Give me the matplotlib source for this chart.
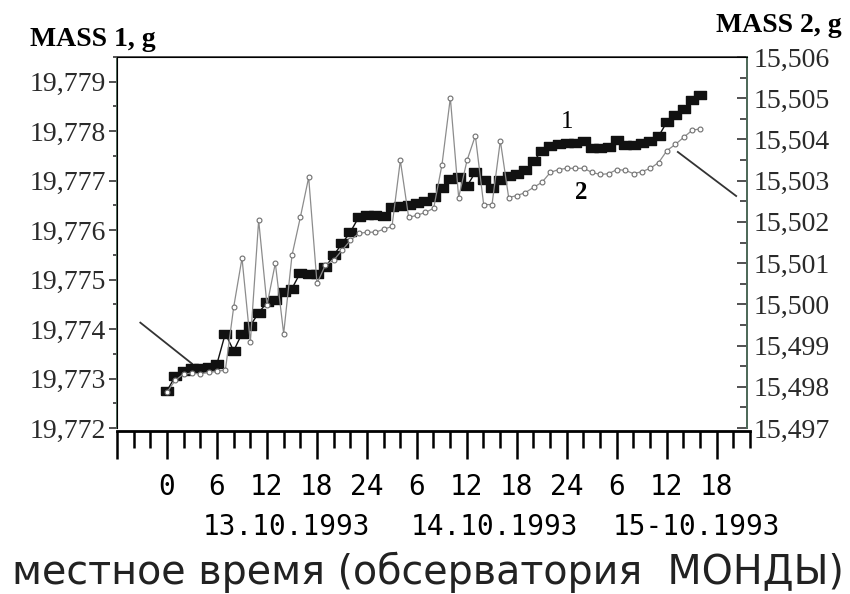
import numpy as np
import matplotlib
matplotlib.use("Agg")
import matplotlib.pyplot as plt
from matplotlib.ticker import MultipleLocator, FuncFormatter

# hours from 0:00 13.10.1993 (local time, Mondy observatory)
hours = list(range(65))

mass1 = [19.77275, 19.77305, 19.77316, 19.77322, 19.77322, 19.77324, 19.77330,
         19.77391, 19.77356, 19.77391, 19.77407, 19.77433, 19.77454, 19.77458,
         19.77474, 19.77482, 19.77514, 19.77512, 19.77512, 19.77525, 19.77549,
         19.77573, 19.77596, 19.77626, 19.77630, 19.77630, 19.77628, 19.77646,
         19.77648, 19.77650, 19.77654, 19.77658, 19.77667, 19.77685, 19.77703,
         19.77707, 19.77689, 19.77717, 19.77701, 19.77685, 19.77701, 19.77709,
         19.77713, 19.77721, 19.77740, 19.77760, 19.77770, 19.77774, 19.77776,
         19.77776, 19.77780, 19.77766, 19.77766, 19.77768, 19.77782, 19.77772,
         19.77772, 19.77776, 19.77780, 19.77790, 19.77819, 19.77833, 19.77845,
         19.77863, 19.77873]

mass2 = [15.49787, 15.49816, 15.49831, 15.49833, 15.49831, 15.49836, 15.49838,
         15.49840, 15.49993, 15.50112, 15.49908, 15.50204, 15.49998, 15.50100,
         15.49929, 15.50119, 15.50211, 15.50308, 15.50051, 15.50095, 15.50107,
         15.50131, 15.50155, 15.50172, 15.50175, 15.50175, 15.50182, 15.50189,
         15.50349, 15.50211, 15.50216, 15.50223, 15.50233, 15.50339, 15.50501,
         15.50259, 15.50349, 15.50409, 15.50242, 15.50242, 15.50397, 15.50259,
         15.50264, 15.50271, 15.50284, 15.50296, 15.50320, 15.50327, 15.50330,
         15.50330, 15.50330, 15.50320, 15.50315, 15.50317, 15.50327, 15.50325,
         15.50317, 15.50322, 15.50330, 15.50344, 15.50373, 15.50388, 15.50405,
         15.50422, 15.50426]

ruler_ticks = [0, 6, 12, 18, 24, 30, 36, 42, 48, 54, 60, 66]
ruler_labels = ["0", "6", "12", "18", "24", "6", "12", "18", "24", "6", "12", "18"]
day_labels = ["13.10.1993", "14.10.1993", "15-10.1993"]

W, H = 850, 594
SERIF = "Liberation Serif"
MONO = "DejaVu Sans Mono"
SPINE = "#4f6b5a"

comma_fmt = FuncFormatter(lambda v, _: f"{v:.3f}".replace(".", ","))

fig = plt.figure(figsize=(W / 100, H / 100), dpi=100)

# main plot box
ax1 = fig.add_axes([117 / W, 1 - 428 / H, 630 / W, 371 / H])
ax1.set_xlim(-6, 69.6)
ax1.set_ylim(19.772, 19.7795)
ax1.plot(hours, mass1, color="#111111", lw=1.0,
         marker=[(-1, -0.75), (1, -0.75), (1, 0.75), (-1, 0.75), (-1, -0.75)],
         markersize=8, zorder=3)
ax1.yaxis.set_major_locator(MultipleLocator(0.001))
ax1.yaxis.set_minor_locator(MultipleLocator(0.0005))
ax1.yaxis.set_major_formatter(comma_fmt)
ax1.tick_params(axis="y", which="major", direction="out", length=6, width=1.2, pad=2,
                labelsize=20, labelcolor="#2a2a2a", color="#333333")
ax1.tick_params(axis="y", which="minor", direction="out", length=3, width=1.2, color="#333333")
ax1.tick_params(axis="x", bottom=False, labelbottom=False)
for lab in ax1.get_yticklabels():
    lab.set_family(SERIF)
ax1.spines["bottom"].set_visible(False)
ax1.spines["left"].set_color(SPINE)
ax1.spines["top"].set_color("#555555")
ax1.spines["right"].set_color(SPINE)
for s in ("left", "top", "right"):
    ax1.spines[s].set_linewidth(1.4)

# pointer lines and curve numbers
ax1.plot([-3.2, 3.0], [19.77413, 19.77330], color="#333333", lw=1.3, clip_on=False)
ax1.plot([61.3, 68.3], [19.77758, 19.77669], color="#333333", lw=1.3, clip_on=False)
ax1.text(48.0, 19.77819, "1", fontsize=18, family=SERIF, ha="center", va="center")
ax1.text(49.7, 19.77677, "2", fontsize=18, family=SERIF, fontweight="bold", ha="center", va="center")

# second balance on the right axis
ax2 = ax1.twinx()
ax2.set_ylim(15.497, 15.506)
ax2.plot(hours, mass2, color="#8c8c8c", lw=0.9, marker="o", markersize=3.5,
         markerfacecolor="white", markeredgecolor="#6e6e6e", markeredgewidth=0.8, zorder=2)
ax2.yaxis.set_major_locator(MultipleLocator(0.001))
ax2.yaxis.set_minor_locator(MultipleLocator(0.0005))
ax2.yaxis.set_major_formatter(comma_fmt)
ax2.tick_params(axis="y", which="major", direction="in", length=7, width=1.2, pad=5,
                labelsize=20, labelcolor="#2a2a2a", color="#333333")
ax2.tick_params(axis="y", which="minor", direction="in", length=5, width=1.2, color="#333333")
for lab in ax2.get_yticklabels():
    lab.set_family(SERIF)
ax2.spines["bottom"].set_visible(False)
ax2.spines["right"].set_color(SPINE)
ax2.spines["right"].set_linewidth(1.4)

# time ruler under the plot: a line with a tick every 2 h, long every 6 h
axr = fig.add_axes([117 / W, 1 - 459 / H, 633 / W, 28 / H])
axr.set_xlim(-6, 70)
axr.set_ylim(1, 0)
axr.patch.set_visible(False)
for s in axr.spines.values():
    s.set_visible(False)
axr.yaxis.set_visible(False)
grid = np.arange(-6, 71, 2)
is_long = (grid % 6) == 0
axr.axhline(0, color="black", lw=2, clip_on=False)
axr.vlines(grid[is_long], 0, 1, color="black", lw=1.8, clip_on=False)
axr.vlines(grid[~is_long], 0, 0.6, color="black", lw=1.8, clip_on=False)
axr.set_xticks(ruler_ticks, ruler_labels)
axr.tick_params(axis="x", length=0, pad=10, labelsize=20)
for lab in axr.get_xticklabels():
    lab.set_family(MONO)

for x_pix, text in zip([286, 494, 696], day_labels):
    fig.text(x_pix / W, 1 - 527 / H, text, fontsize=20, family=MONO, ha="center", va="center")

fig.text(30 / W, 1 - 40 / H, "MASS 1, g", fontsize=20, family=SERIF, fontweight="bold",
         ha="left", va="center")
fig.text(842 / W, 1 - 25 / H, "MASS 2, g", fontsize=20, family=SERIF, fontweight="bold",
         ha="right", va="center")
fig.text(428 / W, 1 - 572 / H, "местное время (обсерватория  МОНДЫ)", fontsize=28.5,
         family="DejaVu Sans", ha="center", va="center", color="#222222")

fig.savefig("out.png", dpi=100)
plt.close(fig)
